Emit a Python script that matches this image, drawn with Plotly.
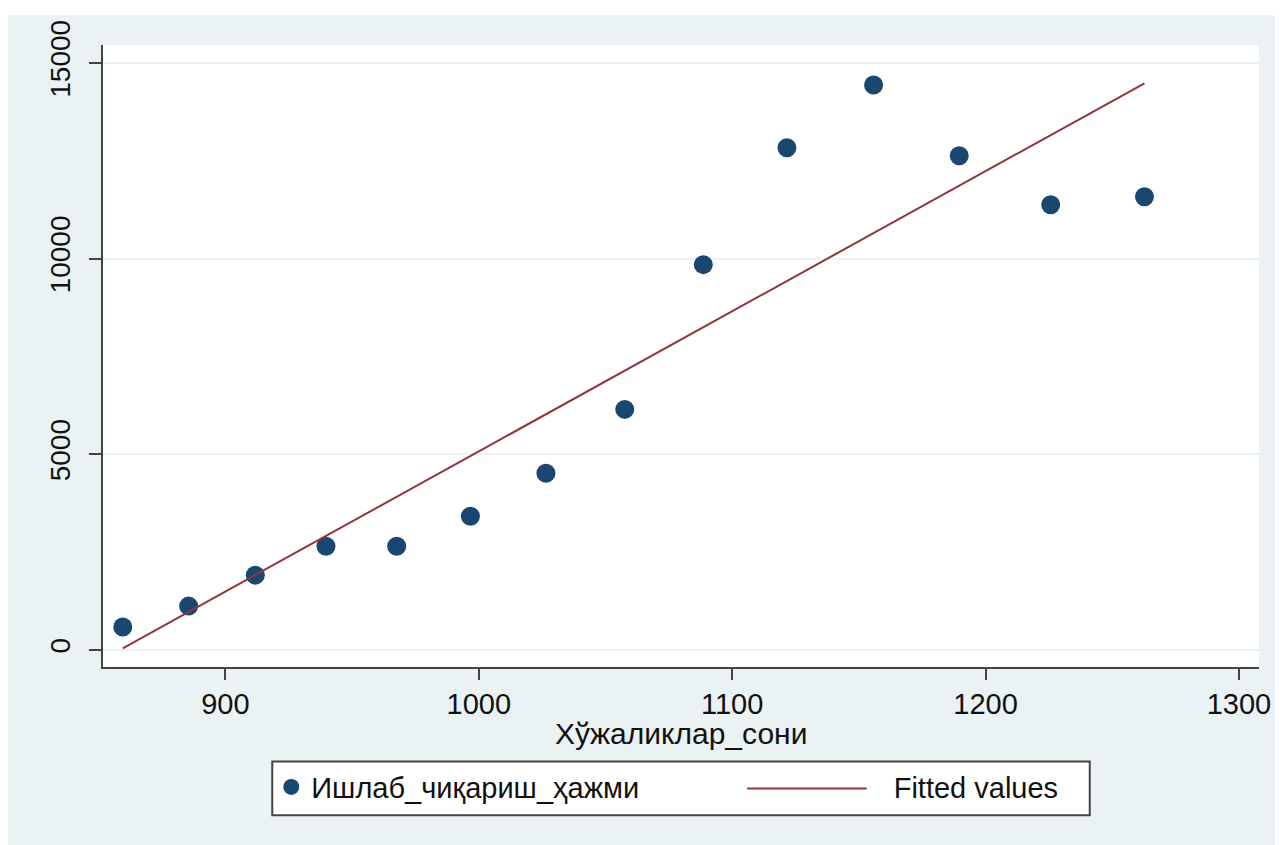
import numpy as np
import plotly.graph_objects as go

# Data
households = [859.5, 885.5, 911.8, 939.7, 967.6, 996.7, 1026.5, 1057.6,
              1088.6, 1121.6, 1155.8, 1189.6, 1225.7, 1262.7]
production = [587, 1122, 1913, 2653, 2653, 3418, 4515, 6148,
              9847, 12832, 14439, 12628, 11378, 11582]
x_ticks = [900, 1000, 1100, 1200, 1300]
y_ticks = [0, 5000, 10000, 15000]
x_title = "Хўжаликлар_сони"
scatter_name = "Ишлаб_чиқариш_ҳажми"
fit_name = "Fitted values"

# Linear fit (Stata "Fitted values")
slope, intercept = np.polyfit(households, production, 1)
fitted = [slope * v + intercept for v in households]

# page body has an 8px margin, so the figure is 8px smaller than the window
OFF = 8
W, H = 1283 - OFF, 845 - OFF
ML, MR, MT, MB = 103 - OFF, 19, 42 - OFF, 178
PW, PH = W - ML - MR, H - MT - MB
BG = "#EAF2F3"
FONT = "Arial, Liberation Sans, sans-serif"
INK = "#111111"
NAVY = "#1A476F"
MAROON = "#90353B"
NB = "\u00a0"

def px_x(p):  # screen px -> paper x
    return (p - OFF - ML) / PW

def px_y(p):  # screen px -> paper y
    return (H - MB - (p - OFF)) / PH

fig = go.Figure()
fig.add_trace(go.Scatter(
    x=households, y=production, mode="markers",
    name=scatter_name + NB * 23,
    marker=dict(color=NAVY, size=19, line=dict(width=0)),
))
fig.add_trace(go.Scatter(
    x=households, y=fitted, mode="lines", name=fit_name,
    line=dict(color=MAROON, width=2), showlegend=False, legendgroup="fit",
))
# legend entry for the fitted line (key line drawn as a longer shape below)
fig.add_trace(go.Scatter(
    x=[None], y=[None], mode="lines", name=NB * 3 + fit_name + NB * 3,
    line=dict(color="rgba(0,0,0,0)", width=0), legendgroup="fit",
))

# thin white strip on top of the outer frame
fig.add_shape(type="rect", xref="paper", yref="paper", layer="below",
              x0=px_x(0), x1=px_x(1290), y0=px_y(12), y1=px_y(0),
              fillcolor="white", line=dict(width=0))
# legend frame (the legend itself draws symbols and labels on top)
fig.add_shape(type="rect", xref="paper", yref="paper", layer="above",
              x0=px_x(273), x1=px_x(1094), y0=px_y(816), y1=px_y(762),
              fillcolor="white", line=dict(color="#444444", width=2))
# longer key line for the fitted values entry
fig.add_shape(type="line", xref="paper", yref="paper", layer="above",
              x0=px_x(750), x1=px_x(870), y0=px_y(789), y1=px_y(789),
              line=dict(color=MAROON, width=2))

# x axis title
fig.add_annotation(text=x_title, xref="paper", yref="paper",
                   x=px_x(683), y=px_y(734), xanchor="center", yanchor="middle",
                   showarrow=False, font=dict(size=30, family=FONT, color=INK))

fig.update_layout(
    width=W, height=H,
    margin=dict(l=ML, r=MR, t=MT, b=MB, pad=0),
    paper_bgcolor=BG, plot_bgcolor="white",
    font=dict(family=FONT, size=29, color=INK),
    showlegend=True,
    legend=dict(
        orientation="h", x=px_x(272), y=px_y(762), xanchor="left", yanchor="top",
        bgcolor="rgba(0,0,0,0)", borderwidth=0,
        font=dict(size=29, family=FONT, color=INK),
        itemwidth=30, tracegroupgap=0,
    ),
    xaxis=dict(
        range=[851.7, 1307.9], tickvals=x_ticks, ticktext=[str(v) for v in x_ticks],
        showgrid=False, zeroline=False, showline=True, linecolor="#444444", linewidth=2,
        ticks="outside", ticklen=11, tickwidth=2, tickcolor="#444444",
        ticklabelstandoff=-1,
        tickfont=dict(size=29, family=FONT, color=INK),
    ),
    yaxis=dict(
        range=[-434, 15459], tickvals=y_ticks, ticktext=[str(v) for v in y_ticks],
        showgrid=True, gridcolor=BG, gridwidth=2, zeroline=False,
        showline=True, linecolor="#444444", linewidth=2,
        ticks="outside", ticklen=12, tickwidth=2, tickcolor="#444444",
        ticklabelstandoff=8,
        tickangle=-90, tickfont=dict(size=28, family=FONT, color=INK),
    ),
)

fig.write_html("out.html")
